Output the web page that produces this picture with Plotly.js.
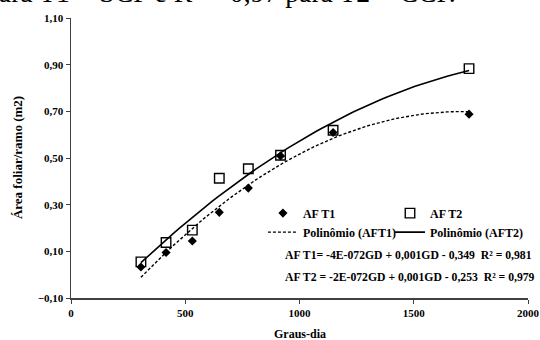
<!DOCTYPE html>
<html>
<head>
<meta charset="utf-8">
<script src="https://cdn.plot.ly/plotly-3.0.1.min.js"></script>
<style>html,body{margin:0;padding:0;background:#fff;}#chart{width:540px;height:340px;}</style>
</head>
<body>
<div id="chart"></div>
<script>
// Data
const grausDia = [306, 416, 531, 649, 776, 917, 1147, 1742];
const aft1 = [0.033, 0.095, 0.144, 0.267, 0.371, 0.509, 0.609, 0.688];
const aft2 = [0.055, 0.138, 0.191, 0.413, 0.454, 0.512, 0.619, 0.883];
const seriesNames = ["AF T1", "AF T2", "Polinômio (AFT1)", "Polinômio (AFT2)"];
const eq1 = "AF T1= -4E-072GD + 0,001GD - 0,349  R² = 0,981";
const eq2 = "AF T2 = -2E-072GD + 0,001GD - 0,253  R² = 0,979";
const topText = "para T1 = SCP e R² = 0,97 para T2 = CCP.";
const xTitle = "Graus-dia";
const yTitle = "Área foliar/ramo (m2)";

// Second-order least-squares trendline (as the spreadsheet does)
function polyFit2(xs, ys) {
  let s = [0,0,0,0,0], t = [0,0,0];
  for (let i = 0; i < xs.length; i++) {
    let p = 1;
    for (let k = 0; k < 5; k++) { s[k] += p; if (k < 3) t[k] += p * ys[i]; p *= xs[i]; }
  }
  const A = [[s[0],s[1],s[2],t[0]],[s[1],s[2],s[3],t[1]],[s[2],s[3],s[4],t[2]]];
  for (let c = 0; c < 3; c++) {
    for (let r = c + 1; r < 3; r++) {
      const f = A[r][c] / A[c][c];
      for (let k = c; k < 4; k++) A[r][k] -= f * A[c][k];
    }
  }
  const b = [0,0,0];
  for (let r = 2; r >= 0; r--) {
    let v = A[r][3];
    for (let k = r + 1; k < 3; k++) v -= A[r][k] * b[k];
    b[r] = v / A[r][r];
  }
  return b;
}
function trend(xs, ys) {
  const b = polyFit2(xs, ys);
  const x0 = Math.min(...xs), x1 = Math.max(...xs);
  const tx = [], ty = [];
  for (let i = 0; i <= 60; i++) {
    const x = x0 + (x1 - x0) * i / 60;
    tx.push(x); ty.push(b[0] + b[1] * x + b[2] * x * x);
  }
  return {x: tx, y: ty};
}
const t1 = trend(grausDia, aft1);
const t2 = trend(grausDia, aft2);

const FONT = "Liberation Serif, Times New Roman, serif";
const legFont = {family: FONT, size: 12, color: "#000", weight: "bold"};

const traces = [
  {x: grausDia, y: aft1, name: seriesNames[0], type: "scatter", mode: "markers", legend: "legend",
   marker: {symbol: "diamond", size: 7, color: "#000"}},
  {x: t1.x, y: t1.y, name: seriesNames[2], type: "scatter", mode: "lines", legend: "legend",
   line: {color: "#000", width: 1.4, dash: "3px,2px"}},
  {x: grausDia, y: aft2, name: seriesNames[1], type: "scatter", mode: "markers", legend: "legend2",
   marker: {symbol: "square-open", size: 9.5, color: "#000", line: {width: 1.4, color: "#000"}}},
  {x: t2.x, y: t2.y, name: seriesNames[3], type: "scatter", mode: "lines", legend: "legend2",
   line: {color: "#000", width: 1.6}}
];

const layout = {
  width: 540, height: 340,
  margin: {l: 71, r: 12, t: 17.5, b: 41.7},
  paper_bgcolor: "#fff", plot_bgcolor: "#fff",
  separators: ",.",
  font: {family: FONT, color: "#000", size: 11},
  showlegend: true,
  legend: {x: 0.42, y: 0.355, xanchor: "left", yanchor: "top", orientation: "v",
           bgcolor: "rgba(0,0,0,0)", font: legFont, tracegroupgap: 0},
  legend2: {x: 1, y: 0.355, xanchor: "right", yanchor: "top", orientation: "v",
           bgcolor: "rgba(0,0,0,0)", font: legFont, tracegroupgap: 0},
  xaxis: {range: [0, 2000], dtick: 500, tick0: 0, showgrid: false, zeroline: false,
          showline: true, linecolor: "#404040", linewidth: 1.5,
          ticks: "outside", ticklen: 4, tickcolor: "#404040", tickwidth: 1,
          tickfont: {family: FONT, size: 11, color: "#000", weight: "bold"}},
  yaxis: {range: [-0.1, 1.1], dtick: 0.2, tick0: -0.1, tickformat: ".2f",
          showgrid: false, zeroline: false,
          showline: true, linecolor: "#404040", linewidth: 1.5,
          ticks: "outside", ticklen: 4, tickcolor: "#404040", tickwidth: 1,
          tickfont: {family: FONT, size: 11, color: "#000", weight: "bold"}},
  annotations: [
    {text: eq1, xref: "paper", yref: "paper", x: 0.4636, y: 0.1506, xanchor: "left", yanchor: "middle",
     showarrow: false, font: {family: FONT, size: 11.7, color: "#000", weight: "bold"}},
    {text: eq2, xref: "paper", yref: "paper", x: 0.4636, y: 0.0723, xanchor: "left", yanchor: "middle",
     showarrow: false, font: {family: FONT, size: 11.7, color: "#000", weight: "bold"}},
    {text: xTitle, xref: "paper", yref: "paper", x: 0.5, y: -0.128, xanchor: "center", yanchor: "middle",
     showarrow: false, font: {family: FONT, size: 12, color: "#000", weight: "bold"}},
    {text: yTitle, xref: "paper", yref: "paper", x: -0.118, y: 0.5, xanchor: "center", yanchor: "middle",
     textangle: -90, showarrow: false, font: {family: FONT, size: 13, color: "#000", weight: "bold"}},
    {text: topText, xref: "paper", yref: "paper", x: -0.1924, y: 1.092, xanchor: "left", yanchor: "middle",
     showarrow: false, font: {family: FONT, size: 27.7, color: "#000"}}
  ]
};

Plotly.newPlot("chart", traces, layout, {displayModeBar: false, staticPlot: true});
</script>
</body>
</html>
